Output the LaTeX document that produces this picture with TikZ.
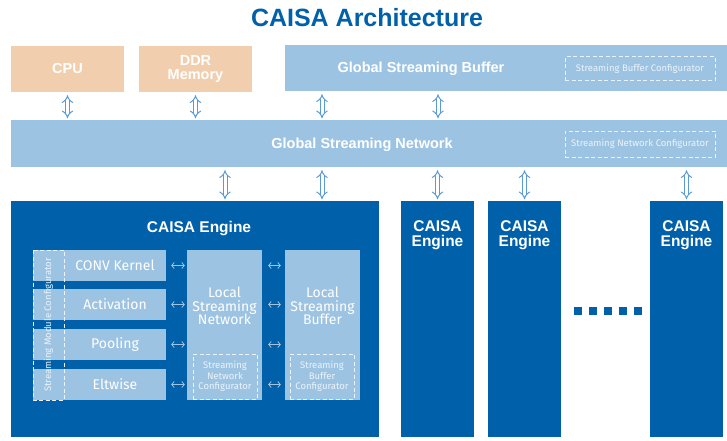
\documentclass[tikz,border=0pt]{standalone}
\usepackage{fontspec}
\setmainfont{Liberation Sans}
\newfontfamily\modfont{Fira Sans}
\usetikzlibrary{arrows.meta}
\definecolor{caisablue}{RGB}{0,97,170}
\definecolor{lightblue}{RGB}{157,195,226}
\definecolor{peach}{RGB}{241,207,174}
\definecolor{arrowblue}{RGB}{91,155,213}
\definecolor{cfgwhite}{RGB}{235,243,250}
\tikzstyle{dblarrow} = [draw=arrowblue, line width=1pt, double=white, double distance=3pt, {Implies}-{Implies}, shorten <=3pt, shorten >=1.5pt]
\tikzstyle{smallarrow} = [draw=lightblue, line width=0.8pt, {Straight Barb[length=2.5pt,width=6pt]}-{Straight Barb[length=2.5pt,width=6pt]}]
\tikzset{
    box/.style={rectangle, inner sep=0pt, text=white, align=center},
    hostbox/.style={box, fill=peach, minimum width=113, minimum height=46, font=\bfseries\fontsize{14.5}{14}\selectfont},
    globalbox/.style={box, fill=lightblue, font=\bfseries\fontsize{14.5}{14}\selectfont},
    cfgbox/.style={box, draw=cfgwhite, dashed, dash pattern=on 4pt off 2.5pt, line width=1pt, text=cfgwhite, font=\modfont\fontsize{9.5}{10.5}\selectfont},
    enginebox/.style={box, fill=caisablue, minimum height=236},
    enginetext/.style={text=white, inner sep=0pt, align=center, font=\bfseries\fontsize{15.5}{15}\selectfont},
    modbox/.style={box, fill=lightblue, minimum width=102, minimum height=31, font=\modfont\fontsize{14}{14}\selectfont},
    localbox/.style={box, fill=lightblue, minimum width=75, minimum height=150},
    localtext/.style={text=white, inner sep=0pt, align=center, font=\modfont\fontsize{14}{13.5}\selectfont}
}
\begin{document}
\begin{tikzpicture}[x=1pt, y=-1pt]
    \useasboundingbox (0,0) rectangle (727,441);

    \node at (367,18) [text=caisablue, font=\bfseries\fontsize{25}{25}\selectfont] (title) {CAISA Architecture};

    % host side
    \node at (67.5,69) [hostbox] (cpu) {CPU};
    \node at (195.5,69) [hostbox] (ddr) {DDR\\Memory};
    \node at (506,68) [globalbox, minimum width=442, minimum height=46] (gsb) {};
    \node at (421,69) [globalbox] (gsbtext) {Global Streaming Buffer};
    \node at (640,69) [cfgbox, minimum width=150, minimum height=24] (sbc) {Streaming Buffer Configurator};

    \node at (369,143.5) [globalbox, minimum width=716, minimum height=47] (gsn) {};
    \node at (362,144.5) [globalbox] (gsntext) {Global Streaming Network};
    \node at (640,144) [cfgbox, minimum width=150, minimum height=26] (gnc) {Streaming Network Configurator};

    % engines
    \node at (195,319) [enginebox, minimum width=368] (eng0) {};
    \node at (199,229) [enginetext] (eng0text) {CAISA Engine};
    \node at (437.5,319) [enginebox, minimum width=73] (eng1) {};
    \node at (437.5,235.5) [enginetext] (eng1text) {CAISA\\Engine};
    \node at (524.5,319) [enginebox, minimum width=73] (eng2) {};
    \node at (524.5,235.5) [enginetext] (eng2text) {CAISA\\Engine};
    \node at (686.5,319) [enginebox, minimum width=73] (eng3) {};
    \node at (686.5,235.5) [enginetext] (eng3text) {CAISA\\Engine};
    \foreach \i in {0,...,4}
        \fill[caisablue] (574+15*\i,307) rectangle ++(8,8);

    % inside the first engine
    \node at (115,265.5) [modbox] (conv) {CONV Kernel};
    \node at (115,304.5) [modbox] (act) {Activation};
    \node at (115,344.5) [modbox] (pool) {Pooling};
    \node at (115,384.5) [modbox] (elt) {Eltwise};
    \foreach \m in {conv,act,pool,elt}
        \fill[lightblue] (\m.north west) rectangle ([xshift=-31pt]\m.south west);
    \node at (48.5,325) [cfgbox, rotate=90, minimum width=150, minimum height=31] (smc) {Streaming Module Configurator};

    \node at (224.5,325) [localbox] (lsn) {};
    \node at (224.5,306) [localtext] (lsntext) {Local\\Streaming\\Network};
    \node at (225,376.5) [cfgbox, minimum width=64, minimum height=45] (lnc) {Streaming\\Network\\Configurator};
    \node at (322.5,325) [localbox] (lsb) {};
    \node at (322.5,306) [localtext] (lsbtext) {Local\\Streaming\\Buffer};
    \node at (322,376.5) [cfgbox, minimum width=64, minimum height=45] (lbc) {Streaming\\Buffer\\Configurator};

    \foreach \m in {conv,act,pool,elt} {
        \draw [smallarrow, shorten <=5pt, shorten >=2pt] (\m.east) -- (\m -| lsn.west);
        \draw [smallarrow, shorten <=6pt, shorten >=4pt] (\m -| lsn.east) -- (\m -| lsb.west);
    }

    % global connections
    \coordinate (c1) at (322,0);
    \coordinate (c2) at (438,0);
    \coordinate (c0) at (225,0);
    \draw [dblarrow] (cpu.south) -- (cpu.south |- gsn.north);
    \draw [dblarrow] (ddr.south) -- (ddr.south |- gsn.north);
    \draw [dblarrow] (gsb.south -| c1) -- (gsn.north -| c1);
    \draw [dblarrow] (gsb.south -| c2) -- (gsn.north -| c2);
    \draw [dblarrow] (gsn.south -| c0) -- (eng0.north -| c0);
    \draw [dblarrow] (gsn.south -| c1) -- (eng0.north -| c1);
    \draw [dblarrow] (gsn.south -| eng1) -- (eng1.north);
    \draw [dblarrow] (gsn.south -| eng2) -- (eng2.north);
    \draw [dblarrow] (gsn.south -| eng3) -- (eng3.north);
\end{tikzpicture}
\end{document}
